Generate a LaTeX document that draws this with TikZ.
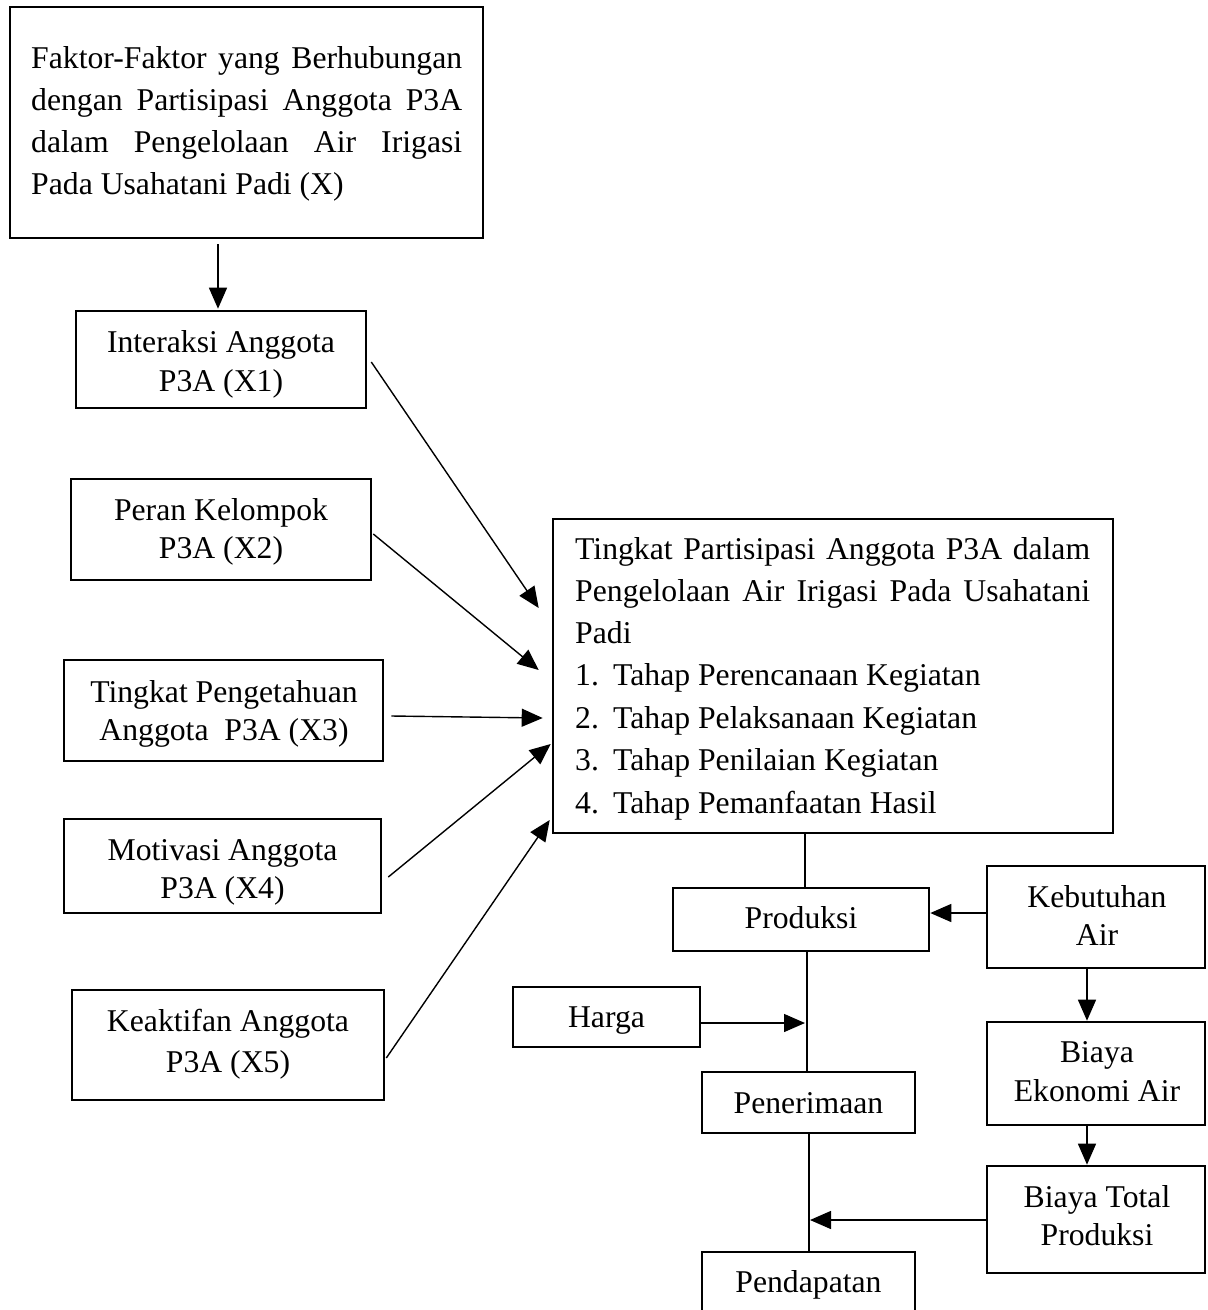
\documentclass[tikz,border=0pt]{standalone}
\usepackage{fontspec}
\setmainfont{Liberation Serif}
\usetikzlibrary{arrows.meta,calc}
\tikzset{
  box/.style={draw, line width=2.6pt, rectangle, inner sep=0pt},
  conn/.style={line width=1.4pt},
  arr/.style={line width=1.4pt, -{Triangle[length=21pt,width=18pt]}},
  lbl/.style={anchor=base, inner sep=0pt},
  lbll/.style={anchor=base west, inner sep=0pt},
}
\begin{document}
\begin{tikzpicture}[x=1pt,y=-1pt,font=\fontsize{31.7}{40}\selectfont]
\useasboundingbox (0,0) rectangle (1208,1310);
\clip (0,0) rectangle (1208,1310);

% boxes
\node[box, minimum width=473pt, minimum height=231pt] (x) at (246.5,122.5) {};
\node[box, minimum width=290pt, minimum height=97pt] (x1) at (221,359.5) {};
\node[box, minimum width=300pt, minimum height=101pt] (x2) at (221,529.5) {};
\node[box, minimum width=319pt, minimum height=101pt] (x3) at (223.5,710.5) {};
\node[box, minimum width=317pt, minimum height=94pt] (x4) at (222.5,866) {};
\node[box, minimum width=312pt, minimum height=110pt] (x5) at (228,1045) {};
\node[box, minimum width=560pt, minimum height=314pt] (main) at (833,676) {};
\node[box, minimum width=256pt, minimum height=63pt] (prod) at (801,919.5) {};
\node[box, minimum width=218pt, minimum height=102pt] (keb) at (1096,917) {};
\node[box, minimum width=187pt, minimum height=60pt] (harga) at (606.5,1017) {};
\node[box, minimum width=213pt, minimum height=61pt] (pen) at (808.5,1102.5) {};
\node[box, minimum width=218pt, minimum height=103pt] (bek) at (1096,1073.5) {};
\node[box, minimum width=218pt, minimum height=107pt] (btot) at (1096,1219.5) {};
\node[box, minimum width=213pt, minimum height=88pt] (pend) at (808.5,1296) {};

% texts: top box
\node[lbll] (tx1) at (31,68) {\makebox[431pt][s]{Faktor-Faktor yang Berhubungan}};
\node[lbll] (tx2) at (31,110) {\makebox[431pt][s]{dengan Partisipasi Anggota P3A}};
\node[lbll] (tx3) at (31,152) {\makebox[431pt][s]{dalam Pengelolaan Air Irigasi}};
\node[lbll] (tx4) at (31,194) {Pada Usahatani Padi (X)};

% left boxes
\node[lbl] (t11) at (221,352) {Interaksi Anggota};
\node[lbl] (t12) at (221,391) {P3A (X1)};
\node[lbl] (t21) at (221,520) {Peran Kelompok};
\node[lbl] (t22) at (221,558) {P3A (X2)};
\node[lbl] (t31) at (224,702) {Tingkat Pengetahuan};
\node[lbl] (t32) at (224,740) {Anggota\ \ P3A (X3)};
\node[lbl] (t41) at (222.5,860) {Motivasi Anggota};
\node[lbl] (t42) at (222.5,898) {P3A (X4)};
\node[lbl] (t51) at (228,1031) {Keaktifan Anggota};
\node[lbl] (t52) at (228,1072) {P3A (X5)};

% main box
\node[lbll] (tm1) at (575,559) {\makebox[515pt][s]{Tingkat Partisipasi Anggota P3A dalam}};
\node[lbll] (tm2) at (575,601) {\makebox[515pt][s]{Pengelolaan Air Irigasi Pada Usahatani}};
\node[lbll] (tm3) at (575,643) {Padi};
\node[lbll] (tm4) at (575,685) {\makebox[38pt][l]{1.}Tahap Perencanaan Kegiatan};
\node[lbll] (tm5) at (575,728) {\makebox[38pt][l]{2.}Tahap Pelaksanaan Kegiatan};
\node[lbll] (tm6) at (575,770) {\makebox[38pt][l]{3.}Tahap Penilaian Kegiatan};
\node[lbll] (tm7) at (575,813) {\makebox[38pt][l]{4.}Tahap Pemanfaatan Hasil};

% bottom right
\node[lbl] (tp) at (801,928) {Produksi};
\node[lbl] (tk1) at (1097,907) {Kebutuhan};
\node[lbl] (tk2) at (1097,945) {Air};
\node[lbl] (th) at (606.5,1027) {Harga};
\node[lbl] (tpe) at (808.5,1113) {Penerimaan};
\node[lbl] (tb1) at (1097,1062) {Biaya};
\node[lbl] (tb2) at (1097,1101) {Ekonomi Air};
\node[lbl] (tt1) at (1097,1207) {Biaya Total};
\node[lbl] (tt2) at (1097,1245) {Produksi};
\node[lbl] (tpd) at (808.5,1292) {Pendapatan};

% connector points on the vertical line
\coordinate (hp) at (805,1023);
\coordinate (bp) at (810,1220);

% connectors
\draw[arr] ($(x.south)+(-28.5,5)$) -- ($(x1.north)+(-3,-1)$);
\draw[arr] ($(x1.east)+(4,2.5)$) -- ($(main.west)+(-13,-68)$);
\draw[arr] ($(x2.east)+(1,4.5)$) -- ($(main.west)+(-13,-6)$);
\draw[arr] ($(x3.east)+(7,5.5)$) -- ($(main.west)+(-9,42)$);
\draw[arr] ($(x4.east)+(6,11)$) -- ($(main.west)+(-1,68)$);
\draw[arr] ($(x5.east)+(1,13)$) -- ($(main.west)+(-2,144)$);

\draw[conn] ($(main.south)+(-28,0)$) -- ($(prod.north)+(4,0)$);
\draw[conn] ($(prod.south)+(6,0)$) -- ($(pen.north)+(-1.5,0)$);
\draw[conn] ($(pen.south)+(0.5,0)$) -- ($(pend.north)+(0.5,0)$);

\draw[arr] ($(keb.west)+(0,-4)$) -- ($(prod.east)+(0,-6.5)$);
\draw[arr] ($(keb.south)+(-9,0)$) -- ($(bek.north)+(-9,0)$);
\draw[arr] ($(bek.south)+(-9,0)$) -- ($(btot.north)+(-9,0)$);
\draw[arr] ($(harga.east)+(0,6)$) -- (hp);
\draw[arr] ($(btot.west)+(0,0.5)$) -- (bp);
\end{tikzpicture}
\end{document}
